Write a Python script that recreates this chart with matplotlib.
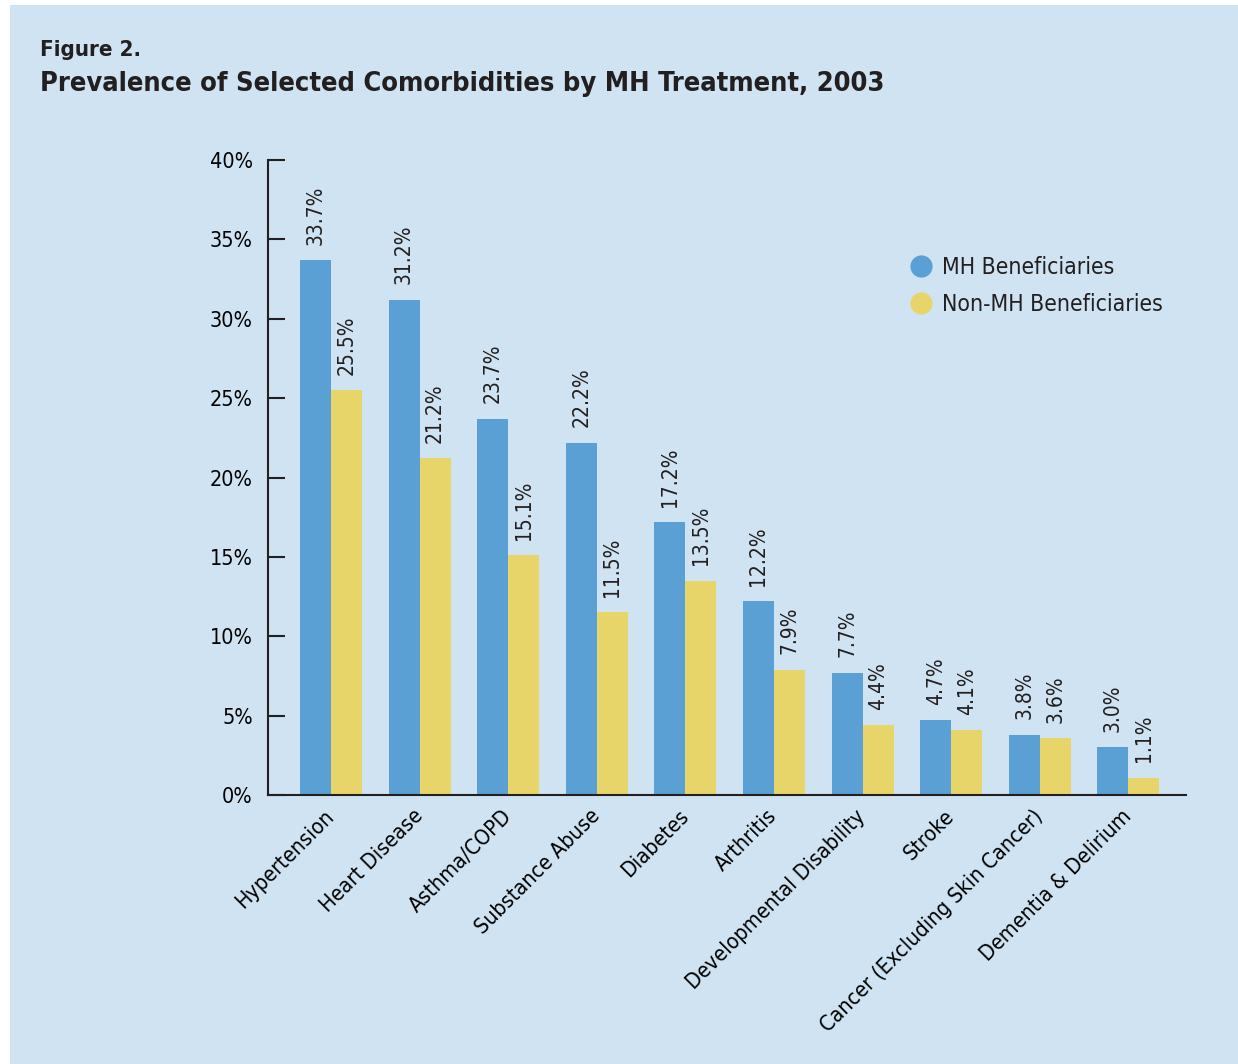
import matplotlib
matplotlib.use("Agg")
import matplotlib.pyplot as plt
from matplotlib.lines import Line2D
from matplotlib.patches import Rectangle
import numpy as np

categories = ["Hypertension", "Heart Disease", "Asthma/COPD", "Substance Abuse",
              "Diabetes", "Arthritis", "Developmental Disability", "Stroke",
              "Cancer (Excluding Skin Cancer)", "Dementia & Delirium"]
mh_values = [33.7, 31.2, 23.7, 22.2, 17.2, 12.2, 7.7, 4.7, 3.8, 3.0]
non_mh_values = [25.5, 21.2, 15.1, 11.5, 13.5, 7.9, 4.4, 4.1, 3.6, 1.1]
y_ticks = [0, 5, 10, 15, 20, 25, 30, 35, 40]
series_names = ["MH Beneficiaries", "Non-MH Beneficiaries"]

BG = "#D0E3F2"
BLUE = "#5AA0D4"
YELLOW = "#E8D569"
INK = "#231F20"

# condensed DejaVu is the closest thing to the narrow font of the original
plt.rcParams['font.family'] = ['DejaVu Sans']
plt.rcParams['font.stretch'] = 'condensed'
plt.rcParams['text.color'] = INK

fig = plt.figure(figsize=(12.38, 10.64), dpi=100)
fig.patch.set_facecolor("white")
fig.patches.append(Rectangle((10 / 1238, 0), 1 - 10 / 1238, 1 - 5 / 1064,
                             transform=fig.transFigure, facecolor=BG,
                             edgecolor="none", zorder=-10))

fig.text(40 / 1238, 1 - 56 / 1064, "Figure 2.", fontsize=16, fontweight="bold",
         ha="left", va="baseline")
fig.text(40 / 1238, 1 - 91 / 1064,
         "Prevalence of Selected Comorbidities by MH Treatment, 2003",
         fontsize=19.5, fontweight="bold", ha="left", va="baseline")

ax = fig.add_axes([268 / 1238, 1 - 795 / 1064, (1186 - 268) / 1238, (795 - 160) / 1064])
ax.set_facecolor(BG)

x = np.arange(len(categories))
w = 0.35
ax.bar(x - w / 2, mh_values, width=w, color=BLUE, label=series_names[0])
ax.bar(x + w / 2, non_mh_values, width=w, color=YELLOW, label=series_names[1])

for xi, v in zip(x - w / 2, mh_values):
    ax.annotate(f"{v:.1f}%", (xi, v), xytext=(0, 11), textcoords="offset points",
                rotation=90, ha="center", va="bottom", fontsize=15)
for xi, v in zip(x + w / 2, non_mh_values):
    ax.annotate(f"{v:.1f}%", (xi, v), xytext=(0, 11), textcoords="offset points",
                rotation=90, ha="center", va="bottom", fontsize=15)

ax.set_xlim(-0.71, 9.65)
ax.set_ylim(0, 40)
ax.set_yticks(y_ticks)
ax.set_yticklabels([f"{t}%" for t in y_ticks], fontsize=15.5)
ax.tick_params(axis="y", direction="in", length=12, width=1.5, color=INK, pad=11)
ax.set_xticks(x)
ax.set_xticklabels(categories, rotation=45, ha="right", va="center",
                   rotation_mode="anchor", fontsize=15.5)
ax.tick_params(axis="x", length=0, pad=13)

for s in ["top", "right"]:
    ax.spines[s].set_visible(False)
for s in ["left", "bottom"]:
    ax.spines[s].set_linewidth(1.5)
    ax.spines[s].set_color(INK)

handles = [Line2D([], [], marker="o", linestyle="none", markersize=16,
                  markerfacecolor=c, markeredgecolor="none") for c in (BLUE, YELLOW)]
ax.legend(handles, series_names, loc="upper left", bbox_to_anchor=(0.676, 0.882),
          frameon=False, fontsize=16.5, handletextpad=0.45, labelspacing=0.65,
          handlelength=1.0)

fig.savefig("out.png", dpi=100, facecolor=fig.get_facecolor())
